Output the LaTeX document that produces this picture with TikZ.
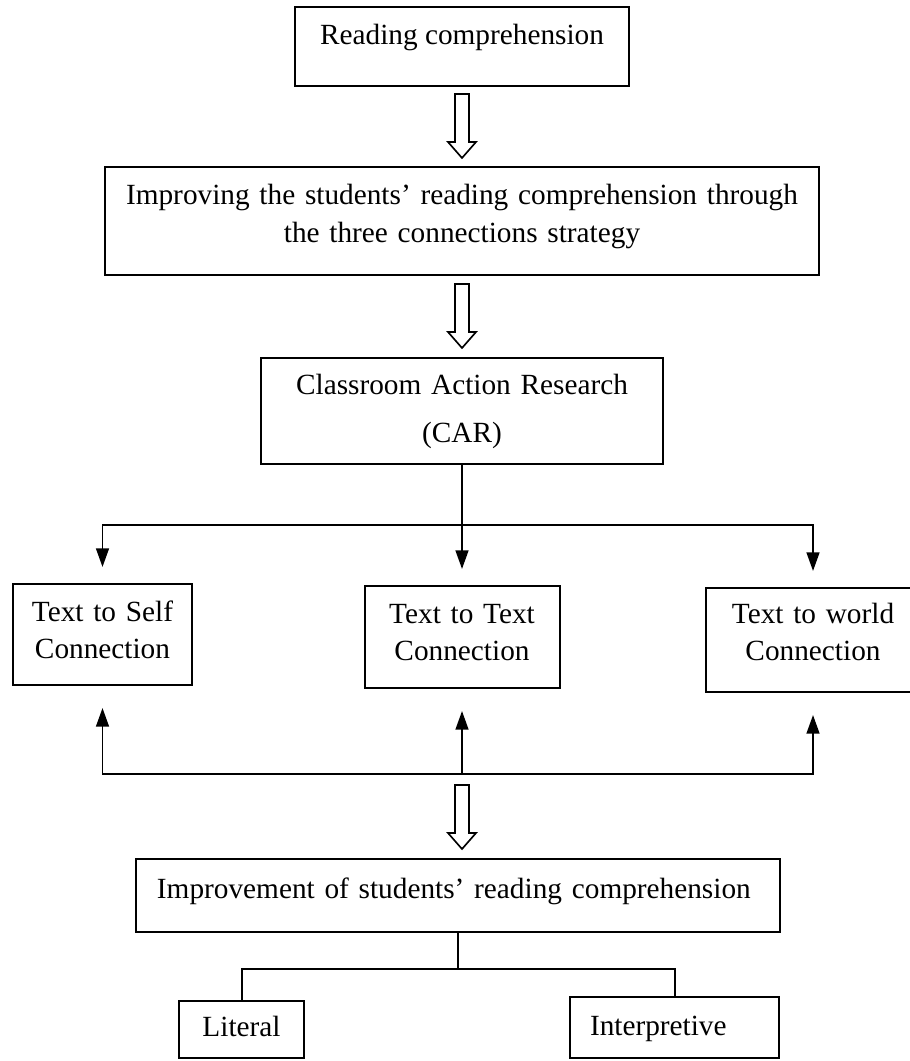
\documentclass[tikz,border=0pt]{standalone}
\usepackage{fontspec}
\setmainfont{Liberation Serif}
\usetikzlibrary{arrows.meta}
\begin{document}
\begin{tikzpicture}[
        x=0.015cm, y=-0.015cm,
        font=\fontsize{12.5}{16.2}\selectfont, >={Triangle[width=5.5pt,length=8pt]},
        line width=0.85pt,
        blk/.style={draw, inner ysep=0pt, align=center},
        down/.style={->, shorten >=0.24cm},
        up/.style={->, shorten >=0.33cm},
        hollow/.pic={\draw[line width=0.7pt] (-7,0) -- (-7,48) -- (-14,48) -- (0,64) -- (14,48) -- (7,48) -- (7,0) -- cycle;}
    ]
        \useasboundingbox (0,0) rectangle (909,1061);
        \node[blk, minimum width=5.01cm, text height=0.57cm, text depth=0.615cm] (read) at (462,46.5) {Reading comprehension};
        \node[blk, inner xsep=0.3cm, text width=10.11cm, text height=0.57cm, text depth=1.05cm] (impr) at (462,221) {Improving the students’ reading comprehension through\\the three connections strategy};
        \node[blk, inner xsep=0.3cm, text width=5.43cm, text height=0.555cm, text depth=1.035cm] (car) at (462,411) {Classroom Action Research\\[4pt](CAR)};
        \node[blk, inner xsep=0.15cm, text width=2.385cm, text height=0.555cm, text depth=0.96cm] (self) at (102.5,634.5) {Text to Self\\Connection};
        \node[blk, inner xsep=0.15cm, text width=2.625cm, text height=0.555cm, text depth=0.975cm] (txt) at (462,637) {Text to Text\\Connection};
        \node[blk, inner xsep=0.15cm, text width=2.91cm, text height=0.525cm, text depth=1.035cm] (world) at (813,640) {Text to world\\Connection};
        \node[blk, inner xsep=0.315cm, text width=9.03cm, align=left, text height=0.585cm, text depth=0.51cm] (gain) at (458,895.5) {Improvement of students’ reading comprehension};
        \node[blk, minimum width=1.875cm, text height=0.525cm, text depth=0.33cm] (lit) at (241.5,1029.5) {Literal};
        \node[blk, inner xsep=0.3cm, text width=2.535cm, align=left, text height=0.57cm, text depth=0.345cm] (interp) at (674.5,1027.5) {Interpretive};
        \path (read.south) ++(0,7) pic {hollow};
        \path (impr.south) ++(0,8) pic {hollow};
        \draw (car.south) -- ++(0,60) coordinate (fork);
        \draw[down] (fork) -| (self.north);
        \draw[down] (fork) -- (txt.north);
        \draw[down] (fork) -| (world.north);
        \coordinate (merge) at (462,774);
        \draw[up] (merge) -| (self.south);
        \draw[up] (merge) -- (txt.south);
        \draw[up] (merge) -| (world.south);
        \path (merge) ++(0,11) pic {hollow};
        \draw (gain.south) -- ++(0,36) coordinate (split);
        \draw (lit.north) |- (split) -| (interp.north);
    \end{tikzpicture}
\end{document}
